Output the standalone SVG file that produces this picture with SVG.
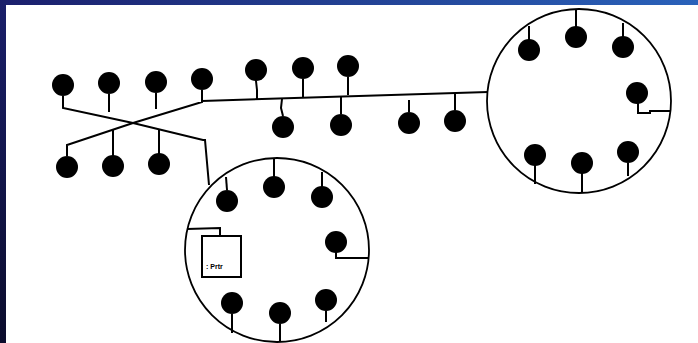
<svg xmlns="http://www.w3.org/2000/svg" width="698" height="343" viewBox="0 0 698 343">
<defs>
<linearGradient id="topg" x1="0" y1="0" x2="1" y2="0">
<stop offset="0" stop-color="#1b1f6c"/>
<stop offset="1" stop-color="#2a62ba"/>
</linearGradient>
<linearGradient id="leftg" x1="0" y1="0" x2="0" y2="1">
<stop offset="0" stop-color="#1a1f6a"/>
<stop offset="1" stop-color="#0b0c2c"/>
</linearGradient>
<style>
.n{fill:#000}
.w{fill:none;stroke:#000;stroke-width:2;stroke-linejoin:miter}
.ring{fill:none;stroke:#000;stroke-width:1.8}
.t{font-family:"Liberation Sans",Arial,sans-serif;font-size:7px;font-weight:bold;fill:#000}
</style>
</defs>
<rect x="0" y="0" width="698" height="343" fill="#fff"/>
<rect x="0" y="0" width="698" height="5" fill="url(#topg)"/>
<rect x="0" y="0" width="6" height="343" fill="url(#leftg)"/>

<g id="connectors">
<polyline class="w" points="63,96 63,108 133,123 203,140 205,140 209,185"/>
<polyline class="w" points="67,156 67,145 133,123 202,102 202,101"/>
<polyline class="w" points="202,101 488,92"/>
<line class="w" x1="109" y1="94" x2="109" y2="112"/>
<line class="w" x1="156" y1="93" x2="156" y2="109"/>
<line class="w" x1="202" y1="90" x2="202" y2="101"/>
<line class="w" x1="113" y1="130" x2="113" y2="156"/>
<line class="w" x1="159" y1="129" x2="159" y2="154"/>
<polyline class="w" points="256,81 257,90 257,99"/>
<line class="w" x1="303" y1="79" x2="303" y2="98"/>
<line class="w" x1="348" y1="77" x2="348" y2="95"/>
<polyline class="w" points="283,116 281,108 282,99"/>
<line class="w" x1="341" y1="114" x2="341" y2="97"/>
<line class="w" x1="409" y1="112" x2="409" y2="100"/>
<line class="w" x1="455" y1="110" x2="455" y2="93"/>
<line class="w" x1="529" y1="40" x2="529" y2="26"/>
<line class="w" x1="576" y1="27" x2="576" y2="9"/>
<line class="w" x1="623" y1="37" x2="623" y2="23"/>
<polyline class="w" points="638,102 638,113 650,113 650,111 671,111"/>
<line class="w" x1="535" y1="165" x2="535" y2="184"/>
<line class="w" x1="582" y1="173" x2="582" y2="193"/>
<line class="w" x1="628" y1="163" x2="628" y2="176"/>
<line class="w" x1="227" y1="190" x2="226" y2="177"/>
<line class="w" x1="274" y1="177" x2="274" y2="159"/>
<line class="w" x1="322" y1="187" x2="322" y2="172"/>
<polyline class="w" points="336,252 336,258 369,258"/>
<line class="w" x1="232" y1="314" x2="232" y2="333"/>
<line class="w" x1="280" y1="324" x2="280" y2="342"/>
<line class="w" x1="326" y1="311" x2="326" y2="322"/>
<polyline class="w" points="187,229 220,228 220,236"/>
</g>

<g id="ring-right"><circle class="ring" cx="579" cy="101" r="92"/></g>
<g id="ring-lower"><circle class="ring" cx="277" cy="250" r="92"/></g>

<g id="printer">
<rect class="w" x="202" y="236" width="39" height="41"/>
<text class="t" x="206" y="269">: Prtr</text>
</g>

<g id="n1"><circle class="n" cx="63" cy="85" r="11"/></g>
<g id="n2"><circle class="n" cx="109" cy="83" r="11"/></g>
<g id="n3"><circle class="n" cx="156" cy="82" r="11"/></g>
<g id="n4"><circle class="n" cx="202" cy="79" r="11"/></g>
<g id="n5"><circle class="n" cx="67" cy="167" r="11"/></g>
<g id="n6"><circle class="n" cx="113" cy="166" r="11"/></g>
<g id="n7"><circle class="n" cx="159" cy="164" r="11"/></g>
<g id="n8"><circle class="n" cx="256" cy="70" r="11"/></g>
<g id="n9"><circle class="n" cx="303" cy="68" r="11"/></g>
<g id="n10"><circle class="n" cx="348" cy="66" r="11"/></g>
<g id="n11"><circle class="n" cx="283" cy="127" r="11"/></g>
<g id="n12"><circle class="n" cx="341" cy="125" r="11"/></g>
<g id="n13"><circle class="n" cx="409" cy="123" r="11"/></g>
<g id="n14"><circle class="n" cx="455" cy="121" r="11"/></g>
<g id="n15"><circle class="n" cx="529" cy="50" r="11"/></g>
<g id="n16"><circle class="n" cx="576" cy="37" r="11"/></g>
<g id="n17"><circle class="n" cx="623" cy="47" r="11"/></g>
<g id="n18"><circle class="n" cx="637" cy="93" r="11"/></g>
<g id="n19"><circle class="n" cx="535" cy="155" r="11"/></g>
<g id="n20"><circle class="n" cx="582" cy="163" r="11"/></g>
<g id="n21"><circle class="n" cx="628" cy="152" r="11"/></g>
<g id="n22"><circle class="n" cx="227" cy="201" r="11"/></g>
<g id="n23"><circle class="n" cx="274" cy="187" r="11"/></g>
<g id="n24"><circle class="n" cx="322" cy="197" r="11"/></g>
<g id="n25"><circle class="n" cx="336" cy="242" r="11"/></g>
<g id="n26"><circle class="n" cx="232" cy="303" r="11"/></g>
<g id="n27"><circle class="n" cx="280" cy="313" r="11"/></g>
<g id="n28"><circle class="n" cx="326" cy="300" r="11"/></g>
</svg>
